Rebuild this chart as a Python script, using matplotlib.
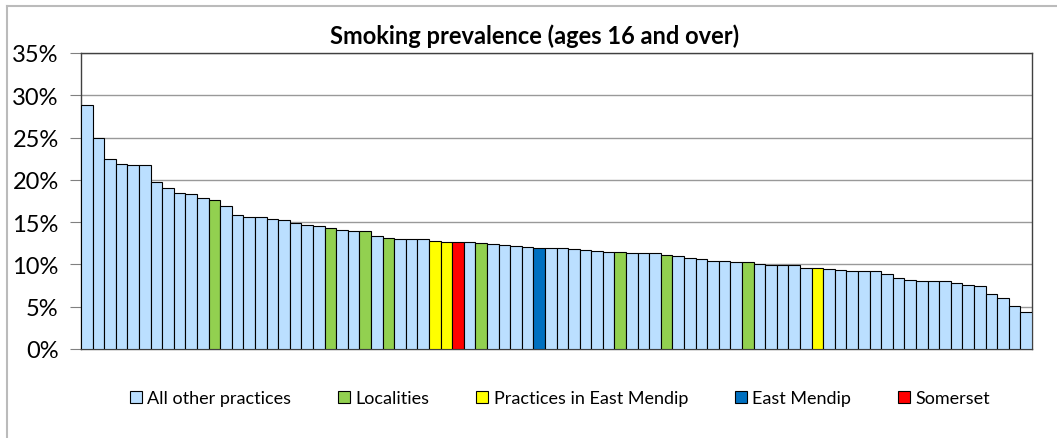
import matplotlib.pyplot as plt
from matplotlib.patches import Patch
from matplotlib.lines import Line2D
from matplotlib.ticker import PercentFormatter

plt.rcParams['font.family'] = ['Lato', 'DejaVu Sans']

# smoking prevalence (%) by practice, sorted high to low
prevalence = [
    28.9, 24.95, 22.45, 21.9, 21.75, 21.75, 19.8, 19.0, 18.4, 18.3,
    17.8, 17.65, 16.9, 15.8, 15.6, 15.55, 15.4, 15.2, 14.9, 14.7,
    14.55, 14.3, 14.1, 14.0, 13.9, 13.35, 13.1, 13.05, 13.0, 13.0,
    12.8, 12.7, 12.7, 12.7, 12.5, 12.45, 12.3, 12.15, 12.05, 11.97,
    11.95, 11.9, 11.85, 11.7, 11.6, 11.5, 11.45, 11.4, 11.4, 11.3,
    11.1, 10.97, 10.8, 10.6, 10.45, 10.4, 10.3, 10.3, 10.07, 9.95,
    9.95, 9.95, 9.6, 9.55, 9.48, 9.36, 9.24, 9.2, 9.2, 8.85,
    8.4, 8.2, 8.05, 8.05, 8.05, 7.85, 7.6, 7.4, 6.5, 6.0,
    5.1, 4.4,
]
# 1-based positions of the highlighted bars
localities = [12, 22, 25, 27, 35, 47, 51, 58]
east_mendip_practices = [31, 32, 64]
east_mendip = [40]
somerset = [33]

c_other = '#BBDFFF'
c_loc = '#92D050'
c_prac = '#FFFF00'
c_em = '#0070C0'
c_som = '#FF0000'

colors = []
for i in range(1, len(prevalence) + 1):
    if i in localities:
        colors.append(c_loc)
    elif i in east_mendip_practices:
        colors.append(c_prac)
    elif i in east_mendip:
        colors.append(c_em)
    elif i in somerset:
        colors.append(c_som)
    else:
        colors.append(c_other)

fig = plt.figure(figsize=(10.57, 4.39), dpi=100)
ax = fig.add_axes([81 / 1057, 1 - 350 / 439, (1032 - 81) / 1057, (350 - 54) / 439])

x = range(len(prevalence))
ax.bar(x, prevalence, width=1.0, color=colors, edgecolor='black', linewidth=0.8, zorder=3)

ax.set_xlim(-0.5, len(prevalence) - 0.5)
ax.set_ylim(0, 35)
ax.set_yticks(range(0, 36, 5))
ax.yaxis.set_major_formatter(PercentFormatter(decimals=0))
ax.tick_params(axis='y', labelsize=17, length=8, width=0.8, color='#808080', pad=8)
ax.set_xticks([])
ax.yaxis.grid(True, color='#999999', linewidth=1, zorder=0)
for s in ax.spines.values():
    s.set_color('#404040')
    s.set_linewidth(1)

fig.text(535 / 1057, 1 - 36 / 439, 'Smoking prevalence (ages 16 and over)',
         ha='center', va='center', fontsize=17, fontweight='bold')

# chart border (top and left visible)
fig.add_artist(Line2D([6.5 / 1057, 1], [1 - 7 / 439, 1 - 7 / 439], color='#BBBBBB', linewidth=1.5))
fig.add_artist(Line2D([6.5 / 1057, 6.5 / 1057], [0, 1 - 7 / 439], color='#BBBBBB', linewidth=1.5))

labels = ['All other practices', 'Localities', 'Practices in East Mendip', 'East Mendip', 'Somerset']
handles = [Patch(facecolor=c, edgecolor='black', linewidth=0.8)
           for c in [c_other, c_loc, c_prac, c_em, c_som]]
fig.legend(handles, labels, loc='center', bbox_to_anchor=(560 / 1057, 1 - 399 / 439),
           ncol=5, frameon=False, fontsize=13, handlelength=0.65, handleheight=0.65,
           handletextpad=0.3, columnspacing=2.6)

fig.savefig('out.png', dpi=100)
